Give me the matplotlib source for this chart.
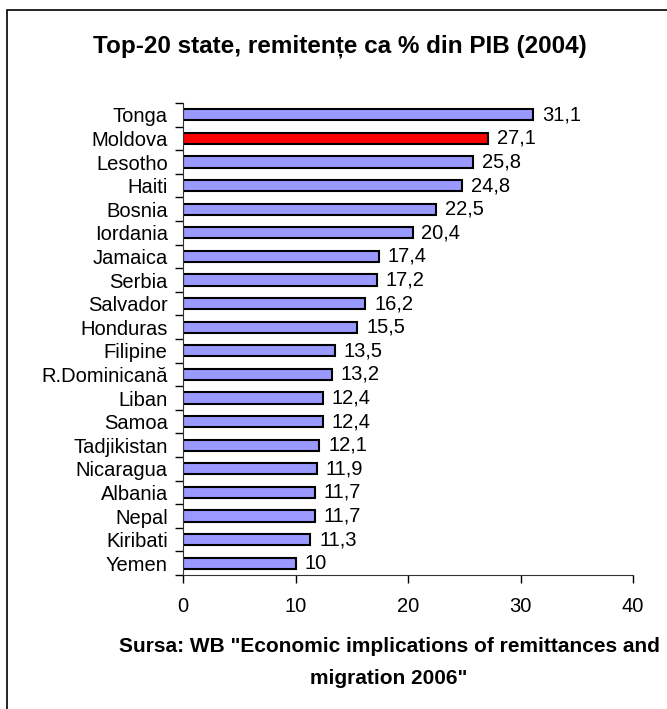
import matplotlib.pyplot as plt
from matplotlib.patches import Rectangle

countries = ['Tonga', 'Moldova', 'Lesotho', 'Haiti', 'Bosnia', 'Iordania', 'Jamaica',
             'Serbia', 'Salvador', 'Honduras', 'Filipine', 'R.Dominicană', 'Liban',
             'Samoa', 'Tadjikistan', 'Nicaragua', 'Albania', 'Nepal', 'Kiribati', 'Yemen']
values = [31.1, 27.1, 25.8, 24.8, 22.5, 20.4, 17.4, 17.2, 16.2, 15.5, 13.5, 13.2,
          12.4, 12.4, 12.1, 11.9, 11.7, 11.7, 11.3, 10]
xticks = [0, 10, 20, 30, 40]

plt.rcParams['font.family'] = ['Liberation Sans', 'DejaVu Sans']

fig = plt.figure(figsize=(6.67, 7.09), dpi=100)
ax = fig.add_axes([183/667, 1 - 575/709, 450/667, 472/709])

colors = ['#FF0000' if c == 'Moldova' else '#9999FF' for c in countries]
ypos = list(range(len(countries)))
ax.barh(ypos, values, height=0.47, color=colors, edgecolor='black', linewidth=1.5)
ax.set_ylim(len(countries) - 0.5, -0.5)
ax.set_xlim(0, 40)

for y, v in zip(ypos, values):
    ax.text(v + 0.8, y, f'{v:g}'.replace('.', ','), va='center', ha='left', fontsize=14.5)

# category separators as outward ticks, labels centred on bars
ax.set_yticks([y + 0.5 for y in [-1] + ypos])
ax.set_yticklabels([])
ax.set_yticks(ypos, minor=True)
ax.set_yticklabels(countries, minor=True, fontsize=14.5)
ax.tick_params(axis='y', which='minor', length=0, pad=11)
ax.tick_params(axis='y', which='major', length=6, direction='out', width=1)
ax.set_xticks(xticks)
ax.set_xticklabels([str(t) for t in xticks], fontsize=14.5)
ax.tick_params(axis='x', length=6, direction='out', width=1, pad=10)

for s in ['top', 'right']:
    ax.spines[s].set_visible(False)
ax.spines['left'].set_color('#333333')
ax.spines['bottom'].set_color('#333333')

fig.text(340/667, 1 - 46/709, 'Top-20 state, remitențe ca % din PIB (2004)',
         ha='center', va='center', fontsize=17.5, fontweight='bold')
fig.text(389/667, 1 - 646/709, 'Sursa: WB "Economic implications of remittances and',
         ha='center', va='center', fontsize=15, fontweight='bold')
fig.text(389/667, 1 - 679/709, 'migration 2006"',
         ha='center', va='center', fontsize=15, fontweight='bold')

fig.add_artist(Rectangle((7/667, -0.05), 1.2, 1.05 - 10/709, transform=fig.transFigure,
                         fill=False, edgecolor='black', linewidth=1.2))

fig.savefig('out.png', dpi=100)
